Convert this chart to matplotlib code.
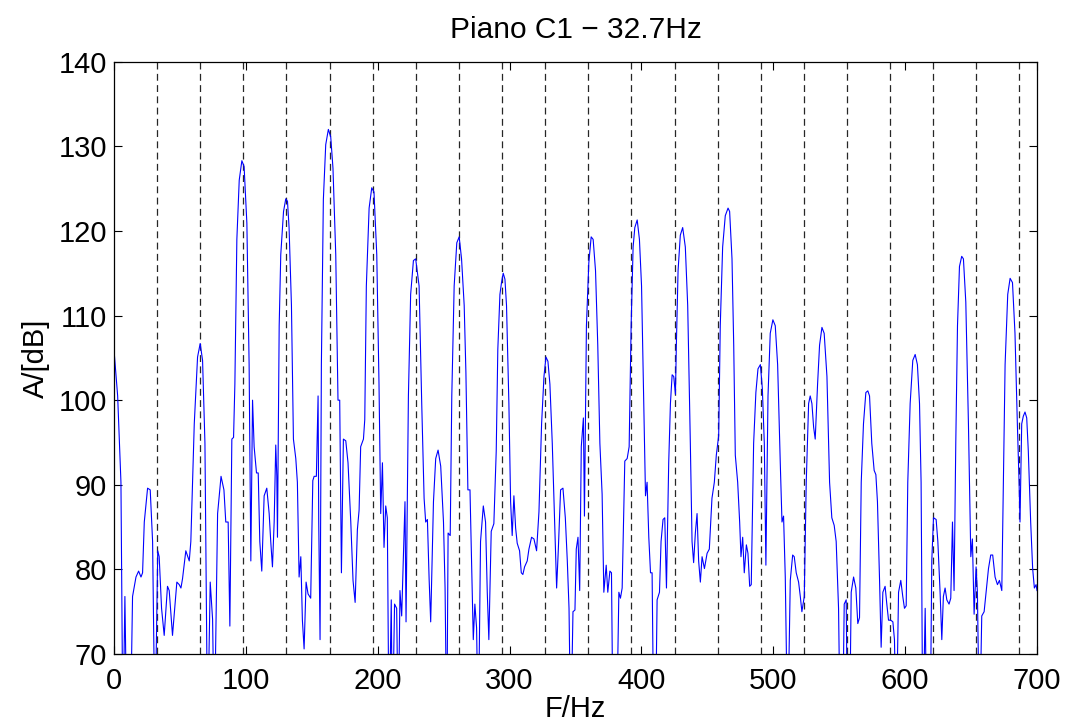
import matplotlib
matplotlib.use("Agg")
import matplotlib.pyplot as plt

plt.rcParams['font.family'] = ['Liberation Sans', 'DejaVu Sans']

# spectrum (values below 70 dB are clipped in the plot)
freq = [0, 2.8, 5.3, 6.8, 8.3, 9.8, 12.4, 14.1, 16.7, 18.7, 20.5, 21.7, 23.0, 25.5, 27.5, 29.3, 31.1,
        33.2, 34.3, 36.1, 38.1, 40.6, 41.9, 44.4, 47.7, 49.5, 50.8, 52.0, 54.5, 57.1, 58.3, 60.9,
        63.4, 65.4, 67.2, 69.0, 71.0, 73.0, 74.8, 76.1, 78.6, 81.2, 83.4, 84.8, 86.6, 87.9, 89.4,
        90.7, 91.7, 93.2, 95.0, 97.0, 98.7, 100.8, 102.5, 103.8, 105.1, 106.3, 108.1, 109.4, 110.6,
        112.1, 113.9, 115.9, 117.7, 118.9, 120.2, 121.5, 122.7, 123.5, 124.0, 125.3, 126.5, 128.6,
        130.3, 131.6, 132.8, 134.6, 136.1, 137.9, 139.1, 140.4, 141.7, 142.9, 144.2, 145.7, 147.2,
        149.2, 150.8, 151.8, 153.5, 154.8, 155.3, 156.3, 157.3, 158.8, 160.6, 162.6, 164.4, 166.1,
        168.2, 169.9, 171.2, 172.5, 174.0, 175.8, 177.5, 179.6, 181.3, 182.9, 184.6, 185.9, 187.1,
        189.2, 190.2, 191.4, 193.5, 195.5, 197.2, 199.3, 201.0, 202.3, 203.6, 204.8, 206.1, 207.3,
        208.6, 210.3, 211.1, 212.8, 214.4, 215.6, 216.9, 218.2, 220.7, 221.5, 223.3, 225.0, 227.1,
        228.8, 231.4, 233.4, 235.2, 236.4, 237.7, 239.0, 240.2, 242.3, 244.0, 245.8, 247.8, 249.9,
        251.1, 252.4, 253.4, 255.0, 256.2, 258.0, 260.0, 261.8, 263.6, 265.6, 266.9, 268.4, 270.0,
        271.2, 272.5, 273.7, 275.0, 276.3, 278.0, 280.1, 281.8, 283.1, 284.3, 286.1, 288.1, 289.9,
        291.1, 292.7, 293.9, 295.2, 296.5, 297.7, 299.5, 300.8, 302.0, 303.3, 304.6, 305.8, 307.6,
        308.9, 310.1, 311.4, 313.4, 314.7, 316.7, 318.5, 320.5, 322.3, 324.3, 326.1, 327.6, 329.1,
        330.6, 332.4, 334.2, 335.7, 337.0, 338.7, 340.5, 342.3, 343.8, 345.1, 346.4, 348.1, 349.6,
        350.6, 351.9, 353.2, 354.4, 356.0, 356.8, 358.3, 360.1, 361.9, 363.4, 365.2, 366.9, 368.5,
        370.2, 371.5, 373.3, 374.5, 376.1, 377.3, 378.5, 381.1, 382.9, 384.1, 385.4, 387.4, 389.2,
        390.7, 392.2, 393.7, 395.0, 396.8, 398.5, 400.1, 401.8, 403.1, 404.3, 405.6, 406.9, 408.1,
        409.4, 410.6, 411.9, 413.7, 414.9, 416.4, 417.7, 419.0, 420.7, 422.0, 423.3, 424.5, 425.8,
        426.5, 427.8, 429.5, 431.3, 433.3, 435.1, 437.1, 438.4, 439.6, 440.9, 442.2, 443.4, 444.7,
        446.0, 447.8, 449.8, 451.5, 453.5, 455.3, 456.8, 458.6, 459.8, 461.6, 463.6, 465.7, 466.9,
        468.7, 470.0, 471.2, 473.0, 474.5, 475.5, 476.8, 478.0, 479.6, 480.8, 482.1, 483.3, 485.1,
        486.8, 488.4, 490.2, 491.7, 493.2, 494.4, 496.0, 497.7, 499.7, 501.5, 503.3, 505.3, 506.6,
        507.8, 509.1, 510.9, 512.9, 514.7, 515.9, 517.4, 519.2, 520.5, 521.7, 523.5, 525.0, 526.8,
        528.0, 529.3, 530.6, 531.8, 533.6, 535.1, 536.9, 538.6, 540.7, 542.7, 544.4, 546.2, 547.7,
        549.5, 550.8, 552.5, 553.8, 555.3, 556.3, 557.8, 559.1, 560.9, 562.6, 564.1, 565.4, 566.7,
        568.4, 570.2, 571.7, 573.0, 574.7, 576.5, 577.8, 579.0, 580.6, 581.8, 583.1, 584.8, 586.1,
        587.4, 589.1, 590.7, 591.9, 593.2, 595.0, 596.7, 598.2, 599.5, 600.8, 602.0, 603.8, 605.8,
        607.6, 609.3, 610.9, 612.1, 613.4, 615.2, 616.4, 619.0, 620.2, 621.5, 623.5, 624.8, 626.5,
        627.8, 629.0, 630.3, 631.6, 633.3, 634.6, 635.9, 637.1, 638.4, 639.7, 641.2, 642.9, 644.2,
        646.0, 648.0, 649.8, 651.0, 652.3, 653.8, 654.8, 656.4, 658.1, 659.9, 661.4, 663.2, 664.9,
        666.4, 668.2, 670.0, 671.5, 673.3, 674.5, 675.8, 677.8, 679.6, 681.4, 683.3, 685.1, 686.4,
        687.1, 688.4, 689.6, 690.9, 692.2, 693.4, 695.2, 696.7, 698.0, 699.3, 700.0]
amp = [106.0, 100.5, 90.3, 60, 76.8, 60, 60, 76.8, 79.1, 79.8, 79.1, 79.6, 85.6, 89.6, 89.4, 83.3, 60,
       82.2, 81.5, 75.4, 72.2, 78.0, 77.5, 72.2, 78.5, 78.2, 77.8, 78.9, 82.2, 81.0, 83.3, 97.2,
       105.1, 106.7, 104.7, 94.9, 60, 78.5, 74.1, 60, 86.6, 91.0, 89.4, 85.6, 85.6, 73.3, 95.4,
       95.6, 101.9, 119.0, 126.0, 128.3, 127.6, 120.9, 104.2, 81.0, 100.0, 94.5, 91.4, 91.4, 83.3,
       79.8, 88.7, 89.6, 86.6, 83.3, 80.3, 85.6, 94.7, 91.0, 83.8, 108.8, 117.2, 122.3,
       123.8, 123.5, 120.4, 111.2, 95.4, 93.1, 90.3, 79.1, 81.5, 74.0, 70.6, 78.5, 77.1,
       76.6, 90.5, 91.0, 91.0, 100.5, 85.6, 71.7, 104.2, 123.7, 130.2, 132.0, 131.1, 127.4,
       117.2, 100.0, 100.0, 79.6, 95.4, 95.2, 92.6, 85.6, 78.7, 76.1, 84.7, 87.0, 94.5,
       95.4, 97.7, 113.5, 122.7, 125.1, 124.6, 117.2, 101.9, 86.6, 92.6, 82.6, 87.5, 86.1,
       60, 76.4, 60, 75.9, 75.4, 60, 77.5, 74.5, 88.0, 73.8, 100.5, 112.5, 116.5,
       116.7, 113.5, 99.6, 88.4, 85.6, 85.9, 78.9, 73.8, 88.0, 93.1, 94.1, 92.2, 85.6,
       77.8, 60, 84.3, 84.0, 100.5, 113.5, 118.6, 119.3, 116.7, 111.2, 103.3, 89.4, 89.4,
       81.0, 71.7, 75.9, 73.1, 60, 83.3, 87.5, 85.6, 77.3, 71.7, 84.5, 85.4, 94.0,
       106.0, 112.5, 113.9, 115.0, 114.3, 111.2, 99.6, 88.0, 84.0, 88.7, 84.9, 83.1, 82.2,
       79.6, 79.4, 80.3, 81.0, 82.4, 83.8, 83.6, 82.2, 86.8, 97.2, 102.8, 105.1, 104.6,
       101.9, 94.9, 85.6, 77.8, 82.4, 89.4, 89.6, 86.1, 81.0, 75.4, 60, 75.0, 75.2,
       82.4, 83.8, 77.5, 94.5, 97.9, 86.3, 108.8, 116.2, 119.3, 119.0, 115.3, 106.5, 94.9,
       88.9, 77.3, 80.5, 77.3, 79.8, 79.6, 60, 60, 77.3, 76.6, 77.8, 92.8, 93.1,
       94.5, 108.8, 118.1, 120.4, 121.3, 119.0, 113.5, 99.6, 88.7, 90.3, 83.8, 79.6, 79.6,
       60, 60, 76.4, 77.3, 83.3, 85.9, 86.1, 77.8, 92.6, 99.6, 103.0, 102.8, 100.7,
       106.5, 115.3, 119.5, 120.4, 118.1, 111.2, 94.9, 83.3, 80.8, 84.3, 86.6, 81.0, 78.5,
       81.5, 80.1, 81.9, 82.4, 88.4, 90.3, 93.5, 95.8, 108.8, 118.1, 121.8, 122.7, 122.3,
       116.7, 106.5, 93.5, 90.3, 85.6, 81.5, 83.8, 79.6, 82.9, 81.9, 78.0, 78.2, 94.9,
       100.9, 103.7, 104.2, 101.4, 94.9, 80.5, 100.5, 107.9, 109.5, 108.8, 104.2, 92.6, 85.6,
       86.3, 79.1, 60, 78.7, 81.7, 81.5, 79.6, 78.5, 76.8, 75.0, 76.8, 90.3, 99.6,
       100.5, 99.6, 96.8, 95.4, 101.9, 106.5, 108.6, 107.9, 102.8, 90.3, 86.1, 85.2, 83.3,
       75.4, 60, 60, 75.9, 76.4, 60, 60, 77.3, 79.1, 77.8, 73.6, 74.3, 90.3,
       97.2, 100.9, 101.1, 100.5, 94.9, 91.7, 91.2, 88.0, 78.7, 70.8, 77.3, 78.0, 75.9,
       74.0, 74.0, 73.8, 71.7, 60, 77.3, 78.7, 76.8, 75.4, 75.7, 90.3, 99.6, 104.7,
       105.4, 104.2, 99.6, 90.3, 60, 75.4, 60, 60, 81.0, 86.1, 85.9, 83.3, 77.3,
       71.7, 76.8, 77.8, 76.4, 75.9, 76.6, 85.6, 77.5, 94.9, 108.8, 115.8, 117.0, 116.7,
       111.6, 97.2, 81.5, 83.6, 74.7, 80.3, 77.3, 60, 74.5, 75.0, 77.3, 80.1, 81.7,
       81.7, 79.1, 78.2, 78.7, 77.5, 90.3, 104.2, 112.5, 114.4, 113.9, 107.9, 97.2, 90.3,
       85.6, 97.2, 98.1, 98.6, 97.9, 94.0, 85.6, 80.1, 77.8, 78.2, 77.5]

f0 = 32.7          # fundamental of C1
n_harmonics = 21   # dashed markers up to 700 Hz

fig = plt.figure(figsize=(10.66, 7.21), dpi=100)
ax = fig.add_axes([0.1069, 0.0929, 0.8659, 0.8215])

for k in range(1, n_harmonics + 1):
    ax.axvline(k * f0, color='0.15', lw=0.9, ls=(0, (5.5, 3.5)), zorder=1)

ax.plot(freq, amp, color=(0, 0, 1), lw=0.8, zorder=2)

ax.set_xlim(0, 700)
ax.set_ylim(70, 140)
ax.set_xticks(range(0, 701, 100))
ax.set_yticks(range(70, 141, 10))
ax.tick_params(direction='in', top=True, right=True, length=6, width=0.8, labelsize=21)
ax.tick_params(axis='x', pad=9)
ax.tick_params(axis='y', pad=5)
for s in ax.spines.values():
    s.set_linewidth(0.9)

ax.set_title("Piano C1 \u2212 32.7Hz", fontsize=21.5, pad=17)
ax.set_xlabel("F/Hz", fontsize=21, labelpad=0)
ax.set_ylabel("A/[dB]", fontsize=21, labelpad=6)

fig.savefig("out.png", dpi=100)
